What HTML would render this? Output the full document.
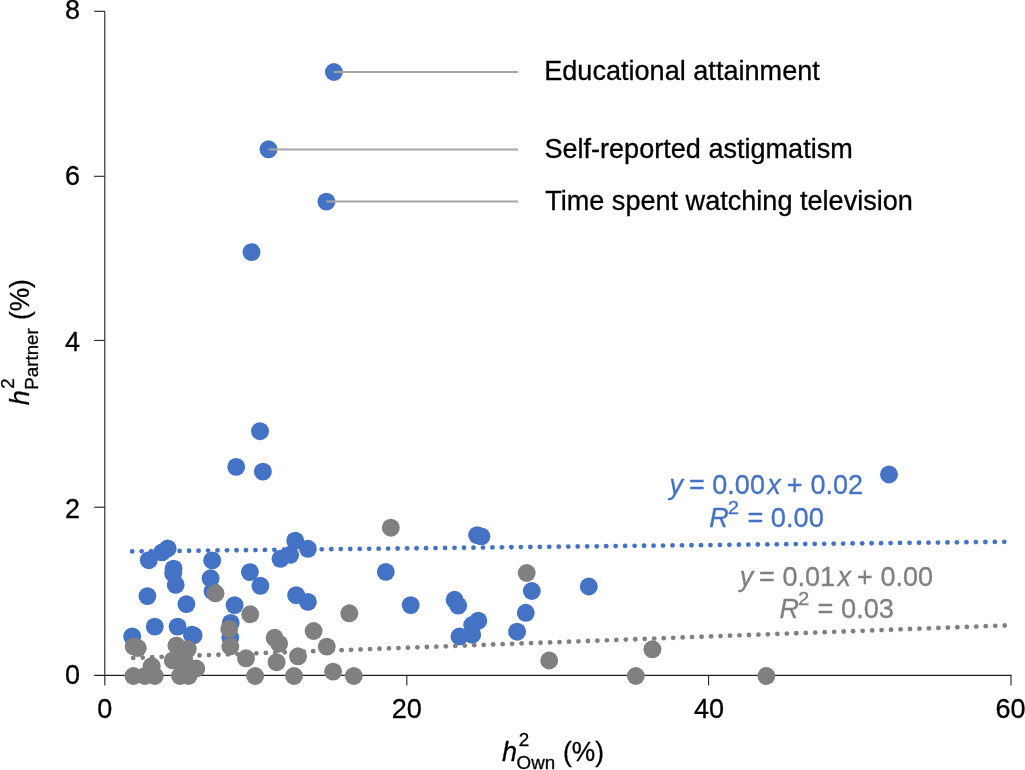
<!DOCTYPE html>
<html lang="en"><head><meta charset="utf-8"><title>Heritability scatter</title>
<style>
html,body{margin:0;padding:0;background:#fff;}
body{width:1025px;height:770px;overflow:hidden;}
svg{display:block;}
text{font-family:"Liberation Sans",Arial,Helvetica,sans-serif;font-size:27px;fill:#000;stroke:#000;stroke-width:0.3px;}
.i{font-style:italic;}
.t text{font-size:27px;}
.l text{font-size:27px;}
.n text{font-size:27.3px;}
.e text{font-size:27px;}
.l text.s{font-size:18.8px;}
.e text.p{font-size:18px;}
.cb text{fill:#4472c4;stroke:#4472c4;}
.cg text{fill:#808080;stroke:#808080;}
</style></head><body>
<svg width="1025" height="770" viewBox="0 0 1025 770">
<rect width="1025" height="770" fill="#fff"/>

<g stroke="#222" stroke-width="1.1" fill="none">
<path d="M104.8 11.3V685.5"/>
<path d="M94.1 675.4H1011.6"/>
<path d="M94.1 11.3H104.8"/>
<path d="M94.1 176.3H104.8"/>
<path d="M94.1 340.4H104.8"/>
<path d="M94.1 507.2H104.8"/>
<path d="M406.8 675.4V685.4"/>
<path d="M708.6 675.4V685.4"/>
<path d="M1011.0 675.4V685.4"/>
</g>
<g class="t">
<text x="80.0" y="19.0" text-anchor="end">8</text>
<text x="80.0" y="185.3" text-anchor="end">6</text>
<text x="80.0" y="351.0" text-anchor="end">4</text>
<text x="80.0" y="517.5" text-anchor="end">2</text>
<text x="80.0" y="683.8" text-anchor="end">0</text>
<text x="104.8" y="717.5" text-anchor="middle">0</text>
<text x="406.8" y="717.5" text-anchor="middle">20</text>
<text x="709.0" y="717.5" text-anchor="middle">40</text>
<text x="1010.6" y="717.5" text-anchor="middle">60</text>
</g>
<g fill="#4472c4">
<circle cx="132.20" cy="551.40" r="2.4"/>
<circle cx="141.68" cy="551.30" r="2.4"/>
<circle cx="151.16" cy="551.19" r="2.4"/>
<circle cx="160.64" cy="551.09" r="2.4"/>
<circle cx="170.12" cy="550.98" r="2.4"/>
<circle cx="179.60" cy="550.88" r="2.4"/>
<circle cx="189.08" cy="550.77" r="2.4"/>
<circle cx="198.56" cy="550.67" r="2.4"/>
<circle cx="208.03" cy="550.57" r="2.4"/>
<circle cx="217.51" cy="550.46" r="2.4"/>
<circle cx="226.99" cy="550.36" r="2.4"/>
<circle cx="236.47" cy="550.25" r="2.4"/>
<circle cx="245.95" cy="550.15" r="2.4"/>
<circle cx="255.43" cy="550.04" r="2.4"/>
<circle cx="264.91" cy="549.94" r="2.4"/>
<circle cx="274.39" cy="549.83" r="2.4"/>
<circle cx="283.87" cy="549.73" r="2.4"/>
<circle cx="293.35" cy="549.63" r="2.4"/>
<circle cx="302.83" cy="549.52" r="2.4"/>
<circle cx="312.31" cy="549.42" r="2.4"/>
<circle cx="321.79" cy="549.31" r="2.4"/>
<circle cx="331.27" cy="549.21" r="2.4"/>
<circle cx="340.75" cy="549.10" r="2.4"/>
<circle cx="350.22" cy="549.00" r="2.4"/>
<circle cx="359.70" cy="548.90" r="2.4"/>
<circle cx="369.18" cy="548.79" r="2.4"/>
<circle cx="378.66" cy="548.69" r="2.4"/>
<circle cx="388.14" cy="548.58" r="2.4"/>
<circle cx="397.62" cy="548.48" r="2.4"/>
<circle cx="407.10" cy="548.37" r="2.4"/>
<circle cx="416.58" cy="548.27" r="2.4"/>
<circle cx="426.06" cy="548.17" r="2.4"/>
<circle cx="435.54" cy="548.06" r="2.4"/>
<circle cx="445.02" cy="547.96" r="2.4"/>
<circle cx="454.50" cy="547.85" r="2.4"/>
<circle cx="463.98" cy="547.75" r="2.4"/>
<circle cx="473.46" cy="547.64" r="2.4"/>
<circle cx="482.94" cy="547.54" r="2.4"/>
<circle cx="492.42" cy="547.43" r="2.4"/>
<circle cx="501.89" cy="547.33" r="2.4"/>
<circle cx="511.37" cy="547.23" r="2.4"/>
<circle cx="520.85" cy="547.12" r="2.4"/>
<circle cx="530.33" cy="547.02" r="2.4"/>
<circle cx="539.81" cy="546.91" r="2.4"/>
<circle cx="549.29" cy="546.81" r="2.4"/>
<circle cx="558.77" cy="546.70" r="2.4"/>
<circle cx="568.25" cy="546.60" r="2.4"/>
<circle cx="577.73" cy="546.50" r="2.4"/>
<circle cx="587.21" cy="546.39" r="2.4"/>
<circle cx="596.69" cy="546.29" r="2.4"/>
<circle cx="606.17" cy="546.18" r="2.4"/>
<circle cx="615.65" cy="546.08" r="2.4"/>
<circle cx="625.13" cy="545.97" r="2.4"/>
<circle cx="634.61" cy="545.87" r="2.4"/>
<circle cx="644.08" cy="545.77" r="2.4"/>
<circle cx="653.56" cy="545.66" r="2.4"/>
<circle cx="663.04" cy="545.56" r="2.4"/>
<circle cx="672.52" cy="545.45" r="2.4"/>
<circle cx="682.00" cy="545.35" r="2.4"/>
<circle cx="691.48" cy="545.24" r="2.4"/>
<circle cx="700.96" cy="545.14" r="2.4"/>
<circle cx="710.44" cy="545.03" r="2.4"/>
<circle cx="719.92" cy="544.93" r="2.4"/>
<circle cx="729.40" cy="544.83" r="2.4"/>
<circle cx="738.88" cy="544.72" r="2.4"/>
<circle cx="748.36" cy="544.62" r="2.4"/>
<circle cx="757.84" cy="544.51" r="2.4"/>
<circle cx="767.32" cy="544.41" r="2.4"/>
<circle cx="776.80" cy="544.30" r="2.4"/>
<circle cx="786.27" cy="544.20" r="2.4"/>
<circle cx="795.75" cy="544.10" r="2.4"/>
<circle cx="805.23" cy="543.99" r="2.4"/>
<circle cx="814.71" cy="543.89" r="2.4"/>
<circle cx="824.19" cy="543.78" r="2.4"/>
<circle cx="833.67" cy="543.68" r="2.4"/>
<circle cx="843.15" cy="543.57" r="2.4"/>
<circle cx="852.63" cy="543.47" r="2.4"/>
<circle cx="862.11" cy="543.37" r="2.4"/>
<circle cx="871.59" cy="543.26" r="2.4"/>
<circle cx="881.07" cy="543.16" r="2.4"/>
<circle cx="890.55" cy="543.05" r="2.4"/>
<circle cx="900.03" cy="542.95" r="2.4"/>
<circle cx="909.51" cy="542.84" r="2.4"/>
<circle cx="918.99" cy="542.74" r="2.4"/>
<circle cx="928.47" cy="542.63" r="2.4"/>
<circle cx="937.94" cy="542.53" r="2.4"/>
<circle cx="947.42" cy="542.43" r="2.4"/>
<circle cx="956.90" cy="542.32" r="2.4"/>
<circle cx="966.38" cy="542.22" r="2.4"/>
<circle cx="975.86" cy="542.11" r="2.4"/>
<circle cx="985.34" cy="542.01" r="2.4"/>
<circle cx="994.82" cy="541.90" r="2.4"/>
<circle cx="1004.30" cy="541.80" r="2.4"/>
</g>
<g fill="#4472c4">
<circle cx="333.9" cy="72.0" r="8.95"/>
<circle cx="268.5" cy="149.3" r="8.95"/>
<circle cx="326.4" cy="201.6" r="8.95"/>
<circle cx="251.5" cy="252.1" r="8.95"/>
<circle cx="260" cy="431.2" r="8.95"/>
<circle cx="236.2" cy="466.9" r="8.95"/>
<circle cx="262.9" cy="471.6" r="8.95"/>
<circle cx="889" cy="474.5" r="8.95"/>
<circle cx="148.8" cy="560.2" r="8.95"/>
<circle cx="162.0" cy="552.4" r="8.95"/>
<circle cx="167.7" cy="548.5" r="8.95"/>
<circle cx="173.6" cy="568.6" r="8.95"/>
<circle cx="173.2" cy="573.3" r="8.95"/>
<circle cx="175.7" cy="584.8" r="8.95"/>
<circle cx="147.4" cy="596.1" r="8.95"/>
<circle cx="186.4" cy="604.1" r="8.95"/>
<circle cx="212.2" cy="560.4" r="8.95"/>
<circle cx="210.6" cy="578.3" r="8.95"/>
<circle cx="212.6" cy="591.2" r="8.95"/>
<circle cx="249.9" cy="572.1" r="8.95"/>
<circle cx="260.4" cy="585.8" r="8.95"/>
<circle cx="234.6" cy="605.1" r="8.95"/>
<circle cx="154.8" cy="626.6" r="8.95"/>
<circle cx="177.6" cy="626.6" r="8.95"/>
<circle cx="191.9" cy="634.8" r="8.95"/>
<circle cx="193.6" cy="635.4" r="8.95"/>
<circle cx="132.2" cy="636.4" r="8.95"/>
<circle cx="230.7" cy="622.9" r="8.95"/>
<circle cx="230.3" cy="637.6" r="8.95"/>
<circle cx="280.5" cy="558.8" r="8.95"/>
<circle cx="290.2" cy="554.8" r="8.95"/>
<circle cx="295.2" cy="540.6" r="8.95"/>
<circle cx="296.2" cy="595.2" r="8.95"/>
<circle cx="307.9" cy="548.8" r="8.95"/>
<circle cx="307.9" cy="601.9" r="8.95"/>
<circle cx="385.8" cy="571.9" r="8.95"/>
<circle cx="410.7" cy="605.1" r="8.95"/>
<circle cx="454.6" cy="599.8" r="8.95"/>
<circle cx="458.2" cy="605.6" r="8.95"/>
<circle cx="477.1" cy="535.1" r="8.95"/>
<circle cx="481.4" cy="536.4" r="8.95"/>
<circle cx="478.3" cy="620.7" r="8.95"/>
<circle cx="472.2" cy="625.0" r="8.95"/>
<circle cx="459.5" cy="636.5" r="8.95"/>
<circle cx="472.2" cy="634.7" r="8.95"/>
<circle cx="531.8" cy="591.0" r="8.95"/>
<circle cx="525.8" cy="612.8" r="8.95"/>
<circle cx="517.1" cy="631.7" r="8.95"/>
<circle cx="588.8" cy="586.5" r="8.95"/>
</g>
<g fill="#808080">
<circle cx="133.20" cy="657.90" r="2.4"/>
<circle cx="142.67" cy="657.55" r="2.4"/>
<circle cx="152.15" cy="657.20" r="2.4"/>
<circle cx="161.62" cy="656.84" r="2.4"/>
<circle cx="171.09" cy="656.49" r="2.4"/>
<circle cx="180.56" cy="656.14" r="2.4"/>
<circle cx="190.04" cy="655.79" r="2.4"/>
<circle cx="199.51" cy="655.43" r="2.4"/>
<circle cx="208.98" cy="655.08" r="2.4"/>
<circle cx="218.46" cy="654.73" r="2.4"/>
<circle cx="227.93" cy="654.38" r="2.4"/>
<circle cx="237.40" cy="654.03" r="2.4"/>
<circle cx="246.87" cy="653.67" r="2.4"/>
<circle cx="256.35" cy="653.32" r="2.4"/>
<circle cx="265.82" cy="652.97" r="2.4"/>
<circle cx="275.29" cy="652.62" r="2.4"/>
<circle cx="284.77" cy="652.27" r="2.4"/>
<circle cx="294.24" cy="651.91" r="2.4"/>
<circle cx="303.71" cy="651.56" r="2.4"/>
<circle cx="313.18" cy="651.21" r="2.4"/>
<circle cx="322.66" cy="650.86" r="2.4"/>
<circle cx="332.13" cy="650.50" r="2.4"/>
<circle cx="341.60" cy="650.15" r="2.4"/>
<circle cx="351.07" cy="649.80" r="2.4"/>
<circle cx="360.55" cy="649.45" r="2.4"/>
<circle cx="370.02" cy="649.10" r="2.4"/>
<circle cx="379.49" cy="648.74" r="2.4"/>
<circle cx="388.97" cy="648.39" r="2.4"/>
<circle cx="398.44" cy="648.04" r="2.4"/>
<circle cx="407.91" cy="647.69" r="2.4"/>
<circle cx="417.38" cy="647.33" r="2.4"/>
<circle cx="426.86" cy="646.98" r="2.4"/>
<circle cx="436.33" cy="646.63" r="2.4"/>
<circle cx="445.80" cy="646.28" r="2.4"/>
<circle cx="455.28" cy="645.93" r="2.4"/>
<circle cx="464.75" cy="645.57" r="2.4"/>
<circle cx="474.22" cy="645.22" r="2.4"/>
<circle cx="483.69" cy="644.87" r="2.4"/>
<circle cx="493.17" cy="644.52" r="2.4"/>
<circle cx="502.64" cy="644.17" r="2.4"/>
<circle cx="512.11" cy="643.81" r="2.4"/>
<circle cx="521.59" cy="643.46" r="2.4"/>
<circle cx="531.06" cy="643.11" r="2.4"/>
<circle cx="540.53" cy="642.76" r="2.4"/>
<circle cx="550.00" cy="642.40" r="2.4"/>
<circle cx="559.48" cy="642.05" r="2.4"/>
<circle cx="568.95" cy="641.70" r="2.4"/>
<circle cx="578.42" cy="641.35" r="2.4"/>
<circle cx="587.90" cy="641.00" r="2.4"/>
<circle cx="597.37" cy="640.64" r="2.4"/>
<circle cx="606.84" cy="640.29" r="2.4"/>
<circle cx="616.31" cy="639.94" r="2.4"/>
<circle cx="625.79" cy="639.59" r="2.4"/>
<circle cx="635.26" cy="639.23" r="2.4"/>
<circle cx="644.73" cy="638.88" r="2.4"/>
<circle cx="654.21" cy="638.53" r="2.4"/>
<circle cx="663.68" cy="638.18" r="2.4"/>
<circle cx="673.15" cy="637.83" r="2.4"/>
<circle cx="682.62" cy="637.47" r="2.4"/>
<circle cx="692.10" cy="637.12" r="2.4"/>
<circle cx="701.57" cy="636.77" r="2.4"/>
<circle cx="711.04" cy="636.42" r="2.4"/>
<circle cx="720.52" cy="636.07" r="2.4"/>
<circle cx="729.99" cy="635.71" r="2.4"/>
<circle cx="739.46" cy="635.36" r="2.4"/>
<circle cx="748.93" cy="635.01" r="2.4"/>
<circle cx="758.41" cy="634.66" r="2.4"/>
<circle cx="767.88" cy="634.30" r="2.4"/>
<circle cx="777.35" cy="633.95" r="2.4"/>
<circle cx="786.83" cy="633.60" r="2.4"/>
<circle cx="796.30" cy="633.25" r="2.4"/>
<circle cx="805.77" cy="632.90" r="2.4"/>
<circle cx="815.24" cy="632.54" r="2.4"/>
<circle cx="824.72" cy="632.19" r="2.4"/>
<circle cx="834.19" cy="631.84" r="2.4"/>
<circle cx="843.66" cy="631.49" r="2.4"/>
<circle cx="853.13" cy="631.13" r="2.4"/>
<circle cx="862.61" cy="630.78" r="2.4"/>
<circle cx="872.08" cy="630.43" r="2.4"/>
<circle cx="881.55" cy="630.08" r="2.4"/>
<circle cx="891.03" cy="629.73" r="2.4"/>
<circle cx="900.50" cy="629.37" r="2.4"/>
<circle cx="909.97" cy="629.02" r="2.4"/>
<circle cx="919.44" cy="628.67" r="2.4"/>
<circle cx="928.92" cy="628.32" r="2.4"/>
<circle cx="938.39" cy="627.97" r="2.4"/>
<circle cx="947.86" cy="627.61" r="2.4"/>
<circle cx="957.34" cy="627.26" r="2.4"/>
<circle cx="966.81" cy="626.91" r="2.4"/>
<circle cx="976.28" cy="626.56" r="2.4"/>
<circle cx="985.75" cy="626.20" r="2.4"/>
<circle cx="995.23" cy="625.85" r="2.4"/>
<circle cx="1004.70" cy="625.50" r="2.4"/>
</g>
<g fill="#808080">
<circle cx="215.5" cy="593.3" r="8.95"/>
<circle cx="229.2" cy="628.9" r="8.95"/>
<circle cx="230.3" cy="646.5" r="8.95"/>
<circle cx="250.2" cy="614.3" r="8.95"/>
<circle cx="133.7" cy="646.4" r="8.95"/>
<circle cx="137.8" cy="648.0" r="8.95"/>
<circle cx="133.5" cy="676" r="8.95"/>
<circle cx="144.9" cy="676" r="8.95"/>
<circle cx="154.8" cy="676" r="8.95"/>
<circle cx="151.7" cy="666.2" r="8.95"/>
<circle cx="176.4" cy="645.5" r="8.95"/>
<circle cx="187.8" cy="649.0" r="8.95"/>
<circle cx="172.8" cy="660.4" r="8.95"/>
<circle cx="184.2" cy="658.7" r="8.95"/>
<circle cx="196.3" cy="668.5" r="8.95"/>
<circle cx="180.0" cy="676" r="8.95"/>
<circle cx="188.5" cy="676" r="8.95"/>
<circle cx="184.5" cy="668.5" r="8.95"/>
<circle cx="246.0" cy="658.3" r="8.95"/>
<circle cx="255.1" cy="676" r="8.95"/>
<circle cx="274.6" cy="637.8" r="8.95"/>
<circle cx="279.1" cy="643.7" r="8.95"/>
<circle cx="276.6" cy="662.2" r="8.95"/>
<circle cx="294.0" cy="676" r="8.95"/>
<circle cx="298" cy="656.3" r="8.95"/>
<circle cx="390.8" cy="527.7" r="8.95"/>
<circle cx="349.3" cy="613.3" r="8.95"/>
<circle cx="313.6" cy="631.0" r="8.95"/>
<circle cx="326.8" cy="646.6" r="8.95"/>
<circle cx="333.1" cy="671.6" r="8.95"/>
<circle cx="353.8" cy="676" r="8.95"/>
<circle cx="526.7" cy="573" r="8.95"/>
<circle cx="549.2" cy="660.5" r="8.95"/>
<circle cx="635.8" cy="676.0" r="8.95"/>
<circle cx="652.4" cy="649.3" r="8.95"/>
<circle cx="766.3" cy="676.0" r="8.95"/>
</g>
<g stroke="#a5a5a5" stroke-width="2" fill="none">
<path d="M333.9 72.0H518"/>
<path d="M268.5 149.4H518"/>
<path d="M326.4 201.5H518"/>
</g>
<g class="n">
<text x="544.2" y="80.3" textLength="275.6" lengthAdjust="spacingAndGlyphs">Educational attainment</text>
<text x="544.4" y="157.7" textLength="308.4" lengthAdjust="spacingAndGlyphs">Self-reported astigmatism</text>
<text x="545.2" y="209.7" textLength="367.7" lengthAdjust="spacingAndGlyphs">Time spent watching television</text>
</g>
<g class="e cb">
<text x="669.60" y="494.1" class="i">y</text>
<text x="689.00" y="494.1">=</text>
<text x="712.35" y="494.1">0.00</text>
<text x="767.30" y="494.1" class="i">x</text>
<text x="786.80" y="494.1">+</text>
<text x="810.40" y="494.1">0.02</text>
<text x="709.3" y="526.8" class="i">R</text>
<text x="727.8" y="513.8" class="p" textLength="11.3" lengthAdjust="spacingAndGlyphs">2</text>
<text x="747.4" y="526.8" textLength="76.4" lengthAdjust="spacingAndGlyphs">= 0.00</text>
</g>
<g class="e cg">
<text x="739.70" y="585.6" class="i">y</text>
<text x="759.10" y="585.6">=</text>
<text x="782.45" y="585.6">0.01</text>
<text x="837.40" y="585.6" class="i">x</text>
<text x="856.90" y="585.6">+</text>
<text x="880.50" y="585.6">0.00</text>
<text x="779.5" y="617.9" class="i">R</text>
<text x="798.0" y="604.9" class="p" textLength="11.3" lengthAdjust="spacingAndGlyphs">2</text>
<text x="817.6" y="617.9" textLength="76.4" lengthAdjust="spacingAndGlyphs">= 0.03</text>
</g>
<g class="l">
<text x="502" y="760.7" class="i">h</text>
<text x="518.7" y="745.6" class="s">2</text>
<text x="516.6" y="768.8" class="s">Own</text>
<text x="563.0" y="760.7" textLength="41" lengthAdjust="spacingAndGlyphs">(%)</text>
</g>
<g class="l" transform="translate(28.8 405.3) rotate(-90)">
<text x="0" y="0" class="i">h</text>
<text x="16.5" y="-14.9" class="s">2</text>
<text x="15.5" y="8.7" class="s">Partner</text>
<text x="85.2" y="0" textLength="41" lengthAdjust="spacingAndGlyphs">(%)</text>
</g>
</svg></body></html>
